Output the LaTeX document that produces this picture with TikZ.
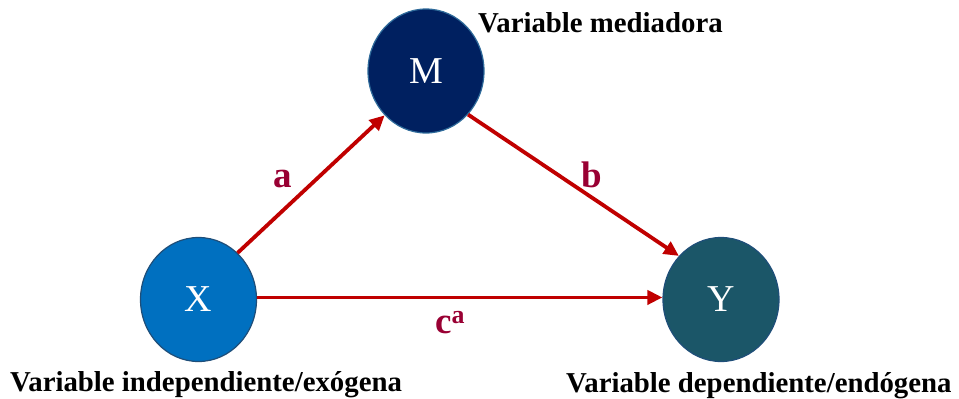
\documentclass[tikz,border=0pt]{standalone}
\usepackage{fontspec}
\setmainfont{Liberation Serif}
\usetikzlibrary{shapes.geometric,arrows.meta}
\definecolor{mfill}{HTML}{002060}
\definecolor{mline}{HTML}{2E6A9A}
\definecolor{xfill}{HTML}{0070C0}
\definecolor{xline}{HTML}{1F4E79}
\definecolor{yfill}{HTML}{1B5668}
\definecolor{arrred}{HTML}{C00000}
\definecolor{labred}{HTML}{990033}
\tikzset{
  var/.style={ellipse, minimum width=116pt, minimum height=124pt, inner sep=0pt,
    line width=1.2pt, text=white, font=\fontsize{38}{40}\selectfont},
  path/.style={draw=arrred, line width=3.8pt, -{Triangle[length=15pt,width=14pt]}},
  coef/.style={text=labred, font=\fontsize{37}{40}\selectfont\bfseries},
  caption/.style={font=\fontsize{28.8}{31}\selectfont\bfseries, inner sep=0pt}
}
\begin{document}
\begin{tikzpicture}[x=1pt,y=-1pt]
\useasboundingbox (0,0) rectangle (959,399);
\node[var, fill=mfill, draw=mline] (M) at (426,71) {M};
\node[var, fill=xfill, draw=xline] (X) at (198.5,299.5) {X};
\node[var, fill=yfill, draw=xline] (Y) at (721,299.5) {Y};
\draw[path] (X.50) -- (M.227);
\draw[path] (M.-46) -- (Y.134);
\draw[path] (X.2) -- (Y.178);
\node[coef] (la) at (283,179) {a};
\node[coef] (lb) at (592,175) {b};
\node[coef, anchor=base west, inner sep=0pt] (lc) at (435,333) {c\textsuperscript{a}};
\node[caption, anchor=base west] (tm) at (478,32) {Variable mediadora};
\node[caption, anchor=base west] (tx) at (10,391) {Variable independiente/exógena};
\node[caption, anchor=base west] (ty) at (566,392) {Variable dependiente/endógena};
\end{tikzpicture}
\end{document}
